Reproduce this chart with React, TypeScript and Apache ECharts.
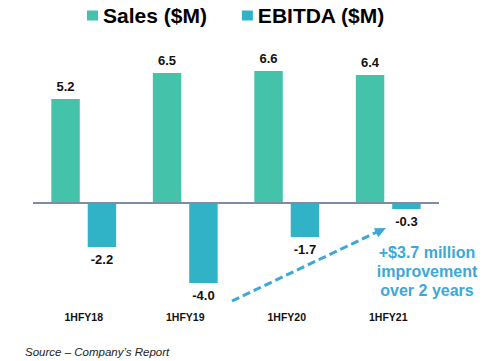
import React, { useEffect, useRef } from "react";
import * as echarts from "echarts";

const categories = ["1HFY18", "1HFY19", "1HFY20", "1HFY21"];
const salesValues = [5.2, 6.5, 6.6, 6.4];
const ebitdaValues = [-2.2, -4.0, -1.7, -0.3];
const seriesNames = ["Sales ($M)", "EBITDA ($M)"];
const annotationLines = ["+$3.7 million", "improvement", "over 2 years"];
const sourceText = "Source \u2013 Company\u2019s Report";

const FONT = "'Liberation Sans', Arial, sans-serif";
const GREEN = "#44C2AA";
const TEAL = "#30B2C7";
const NOTE = "#3CA8D8";

export default function App() {
  const ref = useRef<HTMLDivElement>(null);
  useEffect(() => {
    if (!ref.current) return;
    const chart = echarts.init(ref.current, undefined, { renderer: "svg" });
    const labelStyle = {
      show: true,
      fontFamily: FONT,
      fontWeight: "bold" as const,
      fontSize: 13,
      color: "#111",
      formatter: (p: any) => Number(p.value).toFixed(1),
    };
    chart.setOption({
      animation: false,
      backgroundColor: "#fff",
      legend: {
        data: seriesNames,
        left: 82,
        top: 0,
        icon: "rect",
        itemWidth: 11,
        itemHeight: 10,
        itemGap: 35,
        textStyle: { fontFamily: FONT, fontWeight: "bold", fontSize: 21, color: "#000" },
      },
      grid: { left: 33, right: 62, top: 63, bottom: 58 },
      xAxis: {
        type: "category",
        data: categories,
        axisLine: { show: false },
        axisTick: { show: false },
        axisLabel: { fontFamily: FONT, fontWeight: "bold", fontSize: 10.5, color: "#111", margin: 8 },
      },
      yAxis: { type: "value", min: -5, max: 7, show: false, splitLine: { show: false } },
      series: [
        {
          name: seriesNames[0],
          type: "bar",
          data: salesValues,
          barWidth: "28%",
          barGap: "28%",
          itemStyle: { color: GREEN },
          label: { ...labelStyle, position: "top", distance: 6 },
          markLine: {
            silent: true,
            symbol: "none",
            label: { show: false },
            lineStyle: { color: "#7F8BA8", width: 2, type: "solid" },
            data: [{ yAxis: 0 }],
          },
        },
        {
          name: seriesNames[1],
          type: "bar",
          data: ebitdaValues,
          barWidth: "28%",
          itemStyle: { color: TEAL },
          label: { ...labelStyle, position: "bottom", distance: 6 },
        },
      ],
      graphic: [
        {
          type: "line",
          shape: { x1: 232, y1: 301, x2: 377, y2: 232 },
          style: { stroke: NOTE, lineWidth: 3, lineDash: [8, 4] },
        },
        {
          type: "polygon",
          shape: { points: [[386, 228], [378.3, 237.2], [373.9, 228.2]] },
          style: { fill: NOTE },
        },
        ...annotationLines.map((t, i) => ({
          type: "text",
          x: 427,
          y: 252 + i * 19,
          style: {
            text: t,
            fill: NOTE,
            font: `bold 16px ${FONT}`,
            textAlign: "center",
            textVerticalAlign: "middle",
          },
        })),
        {
          type: "text",
          x: 25,
          y: 352,
          style: {
            text: sourceText,
            fill: "#222",
            font: `italic 11.5px ${FONT}`,
            textAlign: "left",
            textVerticalAlign: "middle",
          },
        },
      ],
    });
    return () => chart.dispose();
  }, []);
  return <div ref={ref} style={{ width: 501, height: 361, position: "absolute", left: 0, top: 0 }} />;
}
